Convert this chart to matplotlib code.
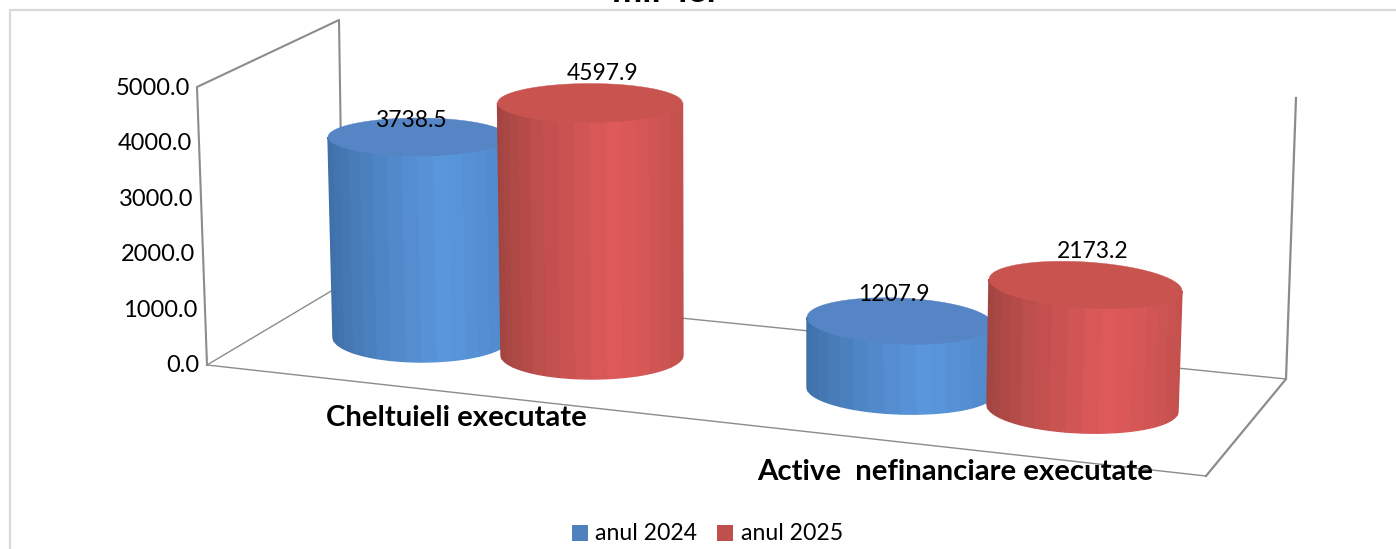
import numpy as np
import matplotlib
matplotlib.use("Agg")
import matplotlib.pyplot as plt
from matplotlib.patches import Polygon, Rectangle
from matplotlib.colors import to_rgb

categories = ["Cheltuieli executate", "Active  nefinanciare executate"]
series_names = ["anul 2024", "anul 2025"]
values_2024 = [3738.5, 1207.9]
values_2025 = [4597.9, 2173.2]
axis_ticks = [0.0, 1000.0, 2000.0, 3000.0, 4000.0, 5000.0]

plt.rcParams["font.family"] = ["Lato", "DejaVu Sans"]
W, H = 1396, 549
fig = plt.figure(figsize=(W / 100, H / 100), dpi=100)
ax = fig.add_axes([0, 0, 1, 1])
ax.set_xlim(0, W)
ax.set_ylim(H, 0)
ax.axis("off")

GRAY = "#8c8c8c"
ax.plot([10, 10, W], [H, 10, 10], color="#d9d9d9", lw=1.6, solid_capstyle="butt")
ax.text(664, 1.5, "mii  lei", ha="center", va="baseline", fontsize=26, fontweight="bold", color="black")

ax.plot([207, 197, 339, 343], [365, 87, 20, 284], color=GRAY, lw=1.5, zorder=1)
ax.plot([207, 343, 1286], [365, 284, 379], color=GRAY, lw=1.0, zorder=1)
ax.plot([207, 1206], [365, 476], color=GRAY, lw=1.0, zorder=1)
ax.plot([1296, 1286, 1206], [98, 379, 476], color=GRAY, lw=1.6, zorder=1)

for v in axis_ticks:
    frac = v / 5000
    ax.text(199 - 9 * frac, 365.5 + (88.5 - 365.5) * frac, f"{v:.1f}", ha="right", va="center",
            fontsize=17, color="black")

def shade(dark, bright, side, t):
    dark, bright, side = map(np.array, (dark, bright, side))
    if t < 0.62:
        return tuple(dark + (bright - dark) * (t / 0.62) ** 0.75)
    return tuple(bright + (side - bright) * ((t - 0.62) / 0.38) ** 1.3)

def ring(cx, cy, rx, ry, slope, th):
    x = cx + rx * np.cos(th)
    y = cy + ry * np.sin(th) + slope * rx * np.cos(th)
    return x, y

def cylinder(base, top, value, px_per_unit, top_col, dark, bright, side, z):
    cxb, yb0, rxb, ryb, sb = base
    cxt, rxt, ryt, st = top
    yt0 = yb0 - value * px_per_unit
    n = 18
    edges = np.linspace(np.pi, 0, n + 1)
    for i in range(n):
        th = np.linspace(edges[i], edges[i + 1], 6)
        xb, yb = ring(cxb, yb0, rxb, ryb, sb, th)
        xt, yt = ring(cxt, yt0, rxt, ryt, st, th)
        pts = np.column_stack([np.r_[xb, xt[::-1]], np.r_[yb, yt[::-1]]])
        t = (np.cos((edges[i] + edges[i + 1]) / 2) + 1) / 2
        col = shade(dark, bright, side, t)
        ax.add_patch(Polygon(pts, closed=True, fc=col, ec=col, lw=1.0, zorder=z))
    th = np.linspace(0, 2 * np.pi, 120)
    x, y = ring(cxt, yt0, rxt, ryt, st, th)
    ax.add_patch(Polygon(np.column_stack([x, y]), closed=True, fc=top_col, ec=top_col, lw=0.3, zorder=z + 0.1))

BLUE = dict(top_col="#5585c4", dark=to_rgb("#3f6ea6"), bright=to_rgb("#5a96dc"), side=to_rgb("#5088c8"))
RED = dict(top_col="#c9544f", dark=to_rgb("#a04440"), bright=to_rgb("#de5a5a"), side=to_rgb("#c5514e"))

cylinder((422, 337, 89, 25, 0.0), (418, 90, 19, 0.0), values_2024[0], 0.0535, z=3, **BLUE)
cylinder((592, 355, 91, 24, 0.0), (590, 92.5, 19.5, 0.0), values_2025[0], 0.0548, z=4, **RED)
cylinder((901, 390, 94, 24, 0.03), (900, 93, 23, 0.04), values_2024[1], 0.0571, z=5, **BLUE)
cylinder((1082.5, 408, 95.5, 25, 0.035), (1085.5, 96.5, 23, 0.06), values_2025[1], 0.0566, z=6, **RED)

lab = dict(ha="center", va="center", fontsize=16.5, color="black", zorder=10)
ax.text(411, 120.5, f"{values_2024[0]:.1f}", **lab)
ax.text(603, 73.5, f"{values_2025[0]:.1f}", **lab)
ax.text(894, 294.5, f"{values_2024[1]:.1f}", **lab)
ax.text(1093, 251.5, f"{values_2025[1]:.1f}", **lab)

ax.text(456, 418.5, categories[0], ha="center", va="center", fontsize=21.2, fontweight="bold", zorder=10)
ax.text(955, 472.5, categories[1], ha="center", va="center", fontsize=21.2, fontweight="bold", zorder=10)

ax.add_patch(Rectangle((572, 525), 16, 16, fc="#4f81bd", ec="none"))
ax.add_patch(Rectangle((717, 525), 16, 16, fc="#c0504d", ec="none"))
ax.text(595, 534, series_names[0], ha="left", va="center", fontsize=16.6)
ax.text(741, 534, series_names[1], ha="left", va="center", fontsize=16.6)

fig.savefig("out.png", dpi=100)
